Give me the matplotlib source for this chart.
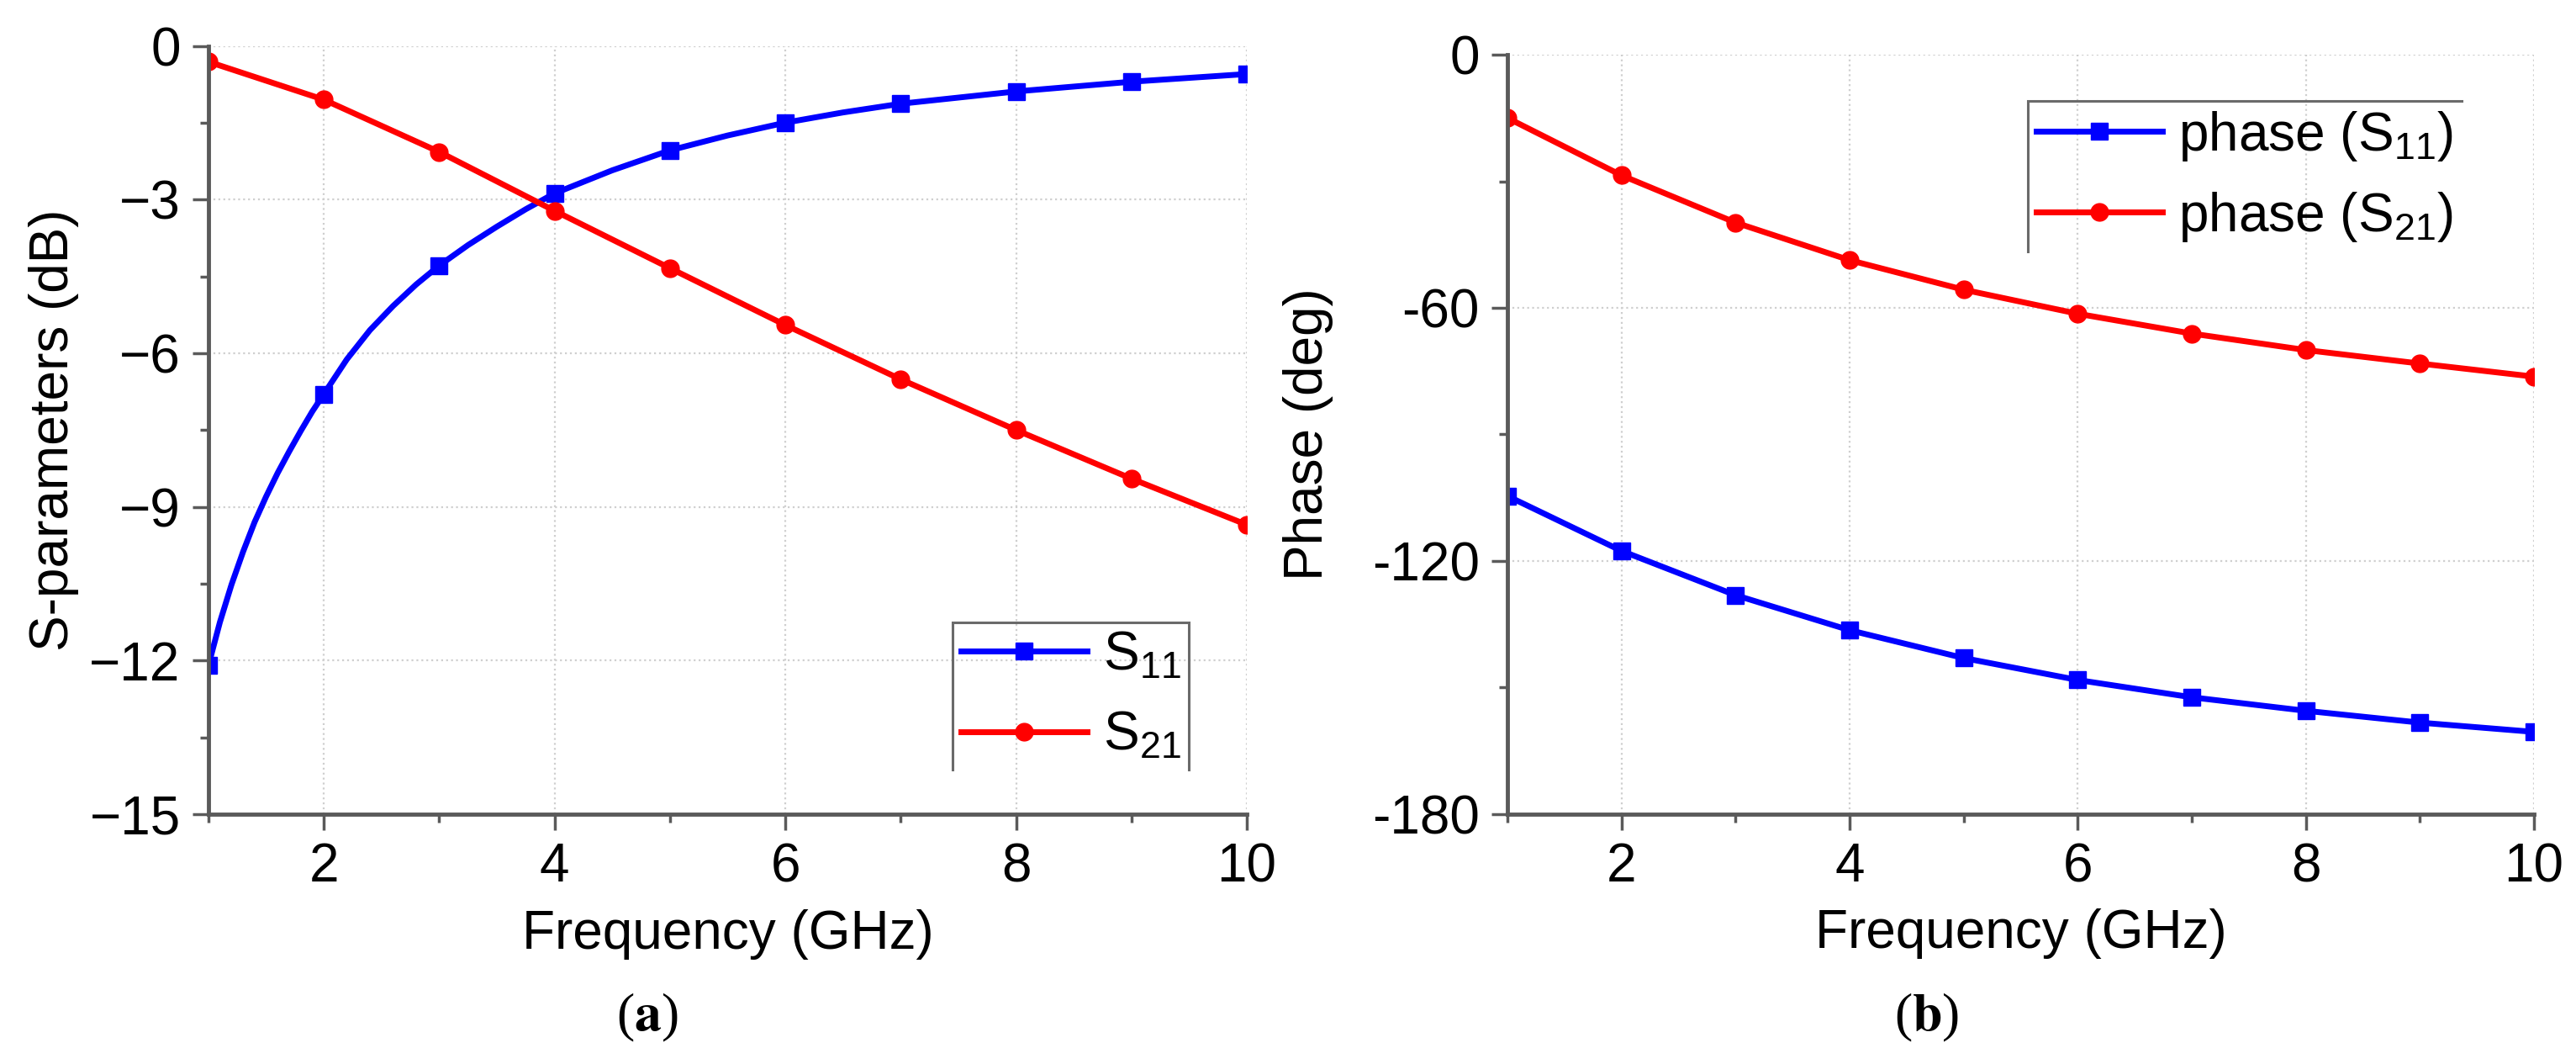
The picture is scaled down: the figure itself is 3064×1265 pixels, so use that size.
import matplotlib
matplotlib.use('Agg')
import matplotlib.pyplot as plt
from matplotlib.ticker import MultipleLocator
from matplotlib.lines import Line2D
from matplotlib.legend_handler import HandlerTuple

# 데이터
freq = [1, 2, 3, 4, 5, 6, 7, 8, 9, 10]

# (a) S-파라미터 크기 [dB]
s11_db = [-12.1, -6.8, -4.29, -2.88, -2.04, -1.50, -1.13, -0.89, -0.70, -0.55]
s21_db = [-0.31, -1.05, -2.07, -3.22, -4.34, -5.45, -6.51, -7.50, -8.45, -9.35]
# S11 곡선 (마커 사이의 곡선 모양을 위해 중간값도 그림에서 읽음)
s11_curve_f = [1.0, 1.1, 1.2, 1.3, 1.4, 1.5, 1.6, 1.7, 1.8, 1.9, 2.0,
               2.2, 2.4, 2.6, 2.8, 3.0, 3.25, 3.5, 3.75, 4.0, 4.5, 5.0,
               5.5, 6.0, 6.5, 7.0, 8.0, 9.0, 10.0]
s11_curve_db = [-12.1, -11.25, -10.52, -9.88, -9.30, -8.80, -8.34, -7.92, -7.52, -7.14, -6.80,
                -6.12, -5.55, -5.08, -4.66, -4.29, -3.89, -3.53, -3.19, -2.88, -2.43, -2.04,
                -1.75, -1.50, -1.30, -1.13, -0.89, -0.70, -0.55]

# (b) 위상 [deg]
s11_phase = [-104.6, -117.6, -128.1, -136.4, -143.0, -148.2, -152.3, -155.5, -158.3, -160.5]
s21_phase = [-15.0, -28.6, -39.8, -48.7, -55.7, -61.4, -66.1, -70.0, -73.2, -76.3]

yticks_a = [0, -3, -6, -9, -12, -15]
yticks_b = [0, -60, -120, -180]
yticklabels_b = ['0', '-60', '-120', '-180']

BLUE = '#0000ff'
RED = '#ff0000'
SPINE = '#5a5a5a'
LW = 5
MS = 15

plt.rcParams['font.family'] = ['Liberation Sans', 'DejaVu Sans']
plt.rcParams['mathtext.default'] = 'regular'
plt.rcParams['mathtext.fontset'] = 'stix'

FS = 46

fig = plt.figure(figsize=(30.64, 12.65), dpi=100)
ax1 = fig.add_axes([0.0809, 0.2348, 0.4031, 0.7221])
ax2 = fig.add_axes([0.5852, 0.2348, 0.3985, 0.7138])


def style_axes(ax):
    for side in ['top', 'right']:
        ax.spines[side].set_visible(False)
    for side in ['left', 'bottom']:
        ax.spines[side].set_linewidth(3.5)
        ax.spines[side].set_color(SPINE)
    ax.set_xlim(1, 10)
    ax.xaxis.set_major_locator(MultipleLocator(2))
    ax.xaxis.set_minor_locator(MultipleLocator(1))
    ax.tick_params(which='major', length=14, width=2.5, color=SPINE,
                   labelsize=FS, pad=10)
    ax.tick_params(which='minor', length=7, width=2.5, color=SPINE)
    ax.grid(True, which='major', linestyle=':', color='#cfcfcf', linewidth=1.6)
    ax.set_axisbelow(True)
    ax.set_xlabel('Frequency (GHz)', fontsize=FS)
    ax.xaxis.set_label_coords(0.5, -0.157)
    ax.xaxis.label.set_va('center')


def partial_frame(leg, right_side):
    # 범례 테두리: 위/왼쪽(+오른쪽)만 그림
    fig.canvas.draw()
    bb = leg.get_window_extent().transformed(fig.transFigure.inverted())
    xs = [bb.x0, bb.x0, bb.x1]
    ys = [bb.y0, bb.y1, bb.y1]
    if right_side:
        xs.append(bb.x1)
        ys.append(bb.y0)
    fig.add_artist(Line2D(xs, ys, transform=fig.transFigure, color='#6a6a6a',
                          linewidth=2.2, solid_joinstyle='miter'))


leg_kw = dict(loc='upper left', frameon=False, fontsize=FS, numpoints=1,
              handlelength=2.35, handletextpad=0.3, borderpad=0.15,
              borderaxespad=0)

# (a) S-parameters
style_axes(ax1)
l11, = ax1.plot(s11_curve_f, s11_curve_db, color=BLUE, linewidth=LW,
                solid_joinstyle='round')
m11, = ax1.plot(freq, s11_db, linestyle='none', marker='s', markersize=MS, color=BLUE)
l21, = ax1.plot(freq, s21_db, color=RED, linewidth=LW, marker='o', markersize=MS)
ax1.set_ylim(-15, 0)
ax1.set_yticks(yticks_a)
ax1.yaxis.set_minor_locator(MultipleLocator(1.5))
ax1.set_ylabel('S-parameters (dB)', fontsize=FS)
ax1.yaxis.set_label_coords(-0.149, 0.5)
ax1.yaxis.label.set_va('center')
leg1 = ax1.legend([(l11, m11), l21], ['S$_{11}$', 'S$_{21}$'],
                  handler_map={tuple: HandlerTuple(ndivide=1)},
                  bbox_to_anchor=(0.7166, 0.2496), labelspacing=0.55, **leg_kw)

# (b) Phase
style_axes(ax2)
ax2.plot(freq, s11_phase, color=BLUE, linewidth=LW, marker='s', markersize=MS,
         label='phase (S$_{11}$)')
ax2.plot(freq, s21_phase, color=RED, linewidth=LW, marker='o', markersize=MS,
         label='phase (S$_{21}$)')
ax2.set_ylim(-180, 0)
ax2.set_yticks(yticks_b)
ax2.set_yticklabels(yticklabels_b)
ax2.yaxis.set_minor_locator(MultipleLocator(30))
ax2.set_ylabel('Phase (deg)', fontsize=FS)
ax2.yaxis.set_label_coords(-0.194, 0.5)
ax2.yaxis.label.set_va('center')
leg2 = ax2.legend(bbox_to_anchor=(0.507, 0.939), labelspacing=0.5, **leg_kw)

partial_frame(leg1, right_side=True)
partial_frame(leg2, right_side=False)

# 하위 그림 캡션
cap = dict(fontsize=46, ha='center', va='center', family='Liberation Serif')
fig.text(770 / 3064, 1 - 1210 / 1265, r'($\mathbf{a}$)', **cap)
fig.text(2292 / 3064, 1 - 1210 / 1265, r'($\mathbf{b}$)', **cap)

fig.savefig('out.png', dpi=100)
